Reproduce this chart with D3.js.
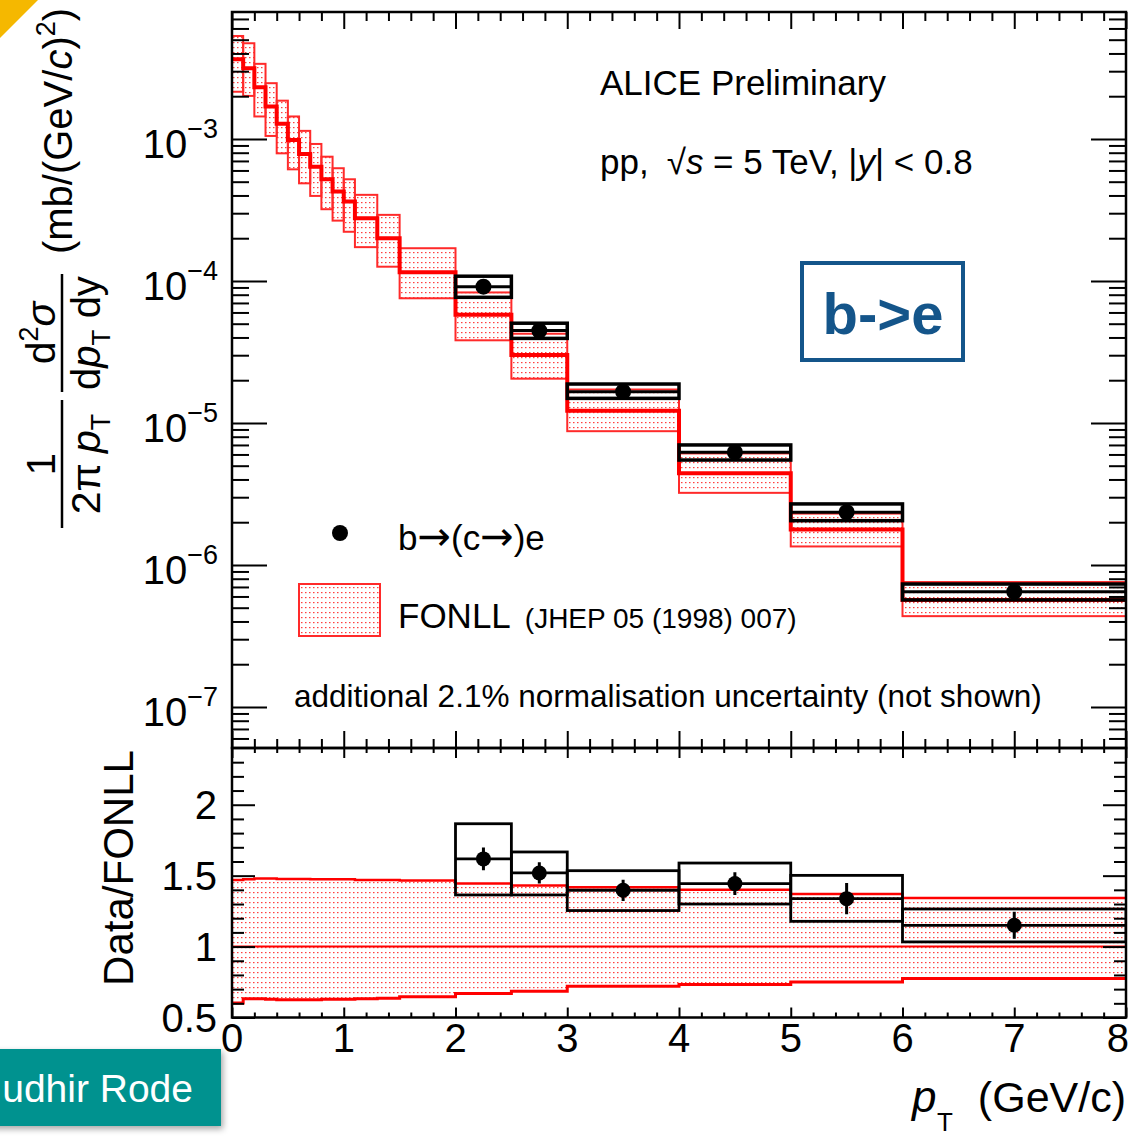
<!DOCTYPE html>
<html><head><meta charset="utf-8">
<script src="https://cdn.jsdelivr.net/npm/d3@7"></script>
<style>
body{margin:0;background:#fff;}
svg{display:block;}
text{font-family:"Liberation Sans",Arial,Helvetica,sans-serif;fill:#000;}
</style>
</head><body>
<script>
// ---------------- DATA ----------------
const fonllEdges = [0,0.1,0.2,0.3,0.4,0.5,0.6,0.7,0.8,0.9,1.0,1.1,1.3,1.5,2,2.5,3,4,5,6,8];
const fonllCentral = [3.64e-3,3.15e-3,2.31e-3,1.69e-3,1.28e-3,9.84e-4,7.84e-4,6.38e-4,5.20e-4,4.26e-4,3.62e-4,2.76e-4,2.00e-4,1.15e-4,5.77e-5,3.01e-5,1.22e-5,4.43e-6,1.78e-6,5.67e-7];
const fonllUpper = [5.31e-3,4.72e-3,3.38e-3,2.47e-3,1.86e-3,1.44e-3,1.14e-3,9.22e-4,7.50e-4,6.22e-4,5.20e-4,4.04e-4,2.92e-4,1.70e-4,8.30e-5,4.25e-5,1.72e-5,6.10e-6,2.30e-6,7.58e-7];
const fonllLower = [2.15e-3,2.01e-3,1.44e-3,1.05e-3,7.92e-4,6.11e-4,4.87e-4,3.97e-4,3.20e-4,2.66e-4,2.22e-4,1.73e-4,1.26e-4,7.55e-5,3.82e-5,2.05e-5,8.75e-6,3.22e-6,1.35e-6,4.36e-7];
const ratioBandUpper = [1.470,1.475,1.480,1.480,1.477,1.477,1.477,1.475,1.475,1.475,1.475,1.470,1.470,1.465,1.444,1.430,1.418,1.400,1.371,1.343];
const ratioBandLower = [0.603,0.632,0.632,0.628,0.625,0.625,0.625,0.625,0.628,0.628,0.628,0.632,0.635,0.646,0.669,0.685,0.721,0.732,0.751,0.775];

const dataLow  = [2,2.5,3,4,5,6];
const dataHigh = [2.5,3,4,5,6,8];
const dataValue    = [9.12e-5,4.47e-5,1.66e-5,6.22e-6,2.35e-6,6.48e-7];
const dataSystUp   = [1.08e-4,5.04e-5,1.88e-5,7.00e-6,2.69e-6,7.34e-7];
const dataSystDown = [7.67e-5,3.94e-5,1.49e-5,5.48e-6,2.05e-6,5.67e-7];
const dataStatRel  = [0.049,0.049,0.054,0.055,0.082,0.083];

const ratioValue    = [1.618,1.519,1.397,1.444,1.338,1.150];
const ratioSystUp   = [1.866,1.667,1.535,1.589,1.502,1.265];
const ratioSystDown = [1.364,1.364,1.254,1.300,1.178,1.033];
const ratioStat     = [0.080,0.075,0.075,0.080,0.110,0.095];

const xTickLabels = ["0","1","2","3","4","5","6","7","8"];
const logDecades = [-7,-6,-5,-4,-3];
const ratioTickLabels = ["0.5","1","1.5","2"];

// ---------------- LAYOUT ----------------
const W = 1129, H = 1137;
const L = 232, R = 1126, T = 12, MID = 748, B = 1017.5;
const RED = "#ff0000";

const svg = d3.select("body").append("svg").attr("width", W).attr("height", H);
const defs = svg.append("defs");
const pat = defs.append("pattern").attr("id","dots").attr("patternUnits","userSpaceOnUse")
  .attr("width",4).attr("height",5);
pat.append("rect").attr("x",1).attr("y",2).attr("width",1.5).attr("height",1.2).attr("fill",RED).attr("opacity",0.75);
defs.append("clipPath").attr("id","clipU").append("rect").attr("x",L).attr("y",T).attr("width",R-L).attr("height",MID-T);
defs.append("clipPath").attr("id","clipR").append("rect").attr("x",L).attr("y",MID).attr("width",R-L).attr("height",B-MID);
const flt = defs.append("filter").attr("id","shadow").attr("x","-20%").attr("y","-20%").attr("width","140%").attr("height","160%");
flt.append("feDropShadow").attr("dx",2).attr("dy",3).attr("stdDeviation",3).attr("flood-color","#000").attr("flood-opacity",0.35);

const x = d3.scaleLinear().domain([0,8]).range([L,R]);
const yU = d3.scaleLog().domain([Math.pow(10,-7.289), Math.pow(10,-2.106)]).range([MID,T]);
const yR = d3.scaleLinear().domain([0.5,2.4]).range([B,MID]);

// ---------------- UPPER PANEL ----------------
const gU = svg.append("g").attr("clip-path","url(#clipU)");
const nb = fonllCentral.length;
const bins = d3.range(nb);
gU.selectAll("rect.fb").data(bins).join("rect").attr("class","fb")
  .attr("x", i => x(fonllEdges[i])).attr("width", i => x(fonllEdges[i+1]) - x(fonllEdges[i]))
  .attr("y", i => yU(fonllUpper[i])).attr("height", i => yU(fonllLower[i]) - yU(fonllUpper[i]))
  .attr("fill","url(#dots)").attr("stroke","#ff2a2a").attr("stroke-width",2);
const stepPts = bins.map(i => [fonllEdges[i], fonllCentral[i]]).concat([[fonllEdges[nb], fonllCentral[nb-1]]]);
gU.append("path").attr("d", d3.line().x(d=>x(d[0])).y(d=>yU(d[1])).curve(d3.curveStepAfter)(stepPts))
  .attr("fill","none").attr("stroke",RED).attr("stroke-width",4);

const di = d3.range(dataValue.length);
gU.selectAll("rect.db").data(di).join("rect").attr("class","db")
  .attr("x", i => x(dataLow[i])).attr("width", i => x(dataHigh[i]) - x(dataLow[i]))
  .attr("y", i => yU(dataSystUp[i])).attr("height", i => yU(dataSystDown[i]) - yU(dataSystUp[i]))
  .attr("fill","none").attr("stroke","#000").attr("stroke-width",3.5);
gU.selectAll("line.dh").data(di).join("line").attr("class","dh")
  .attr("x1", i => x(dataLow[i])).attr("x2", i => x(dataHigh[i]))
  .attr("y1", i => yU(dataValue[i])).attr("y2", i => yU(dataValue[i]))
  .attr("stroke","#000").attr("stroke-width",3);
gU.selectAll("line.dv").data(di).join("line").attr("class","dv")
  .attr("x1", i => x((dataLow[i]+dataHigh[i])/2)).attr("x2", i => x((dataLow[i]+dataHigh[i])/2))
  .attr("y1", i => yU(dataValue[i]*(1+dataStatRel[i]))).attr("y2", i => yU(dataValue[i]*(1-dataStatRel[i])))
  .attr("stroke","#000").attr("stroke-width",3);
gU.selectAll("circle.dp").data(di).join("circle").attr("class","dp")
  .attr("cx", i => x((dataLow[i]+dataHigh[i])/2)).attr("cy", i => yU(dataValue[i])).attr("r",8).attr("fill","#000");

// ---------------- RATIO PANEL ----------------
const gR = svg.append("g").attr("clip-path","url(#clipR)");
const bandPts = bins.map(i => ({x: fonllEdges[i], lo: ratioBandLower[i], hi: ratioBandUpper[i]}))
  .concat([{x: fonllEdges[nb], lo: ratioBandLower[nb-1], hi: ratioBandUpper[nb-1]}]);
gR.append("path").attr("d", d3.area().x(d=>x(d.x)).y0(d=>yR(d.lo)).y1(d=>yR(d.hi)).curve(d3.curveStepAfter)(bandPts))
  .attr("fill","url(#dots)").attr("stroke","none");
gR.append("path").attr("d", d3.line().x(d=>x(d.x)).y(d=>yR(d.hi)).curve(d3.curveStepAfter)(bandPts))
  .attr("fill","none").attr("stroke",RED).attr("stroke-width",2.5);
gR.append("path").attr("d", d3.line().x(d=>x(d.x)).y(d=>yR(d.lo)).curve(d3.curveStepAfter)(bandPts))
  .attr("fill","none").attr("stroke",RED).attr("stroke-width",3);
gR.append("line").attr("x1",x(0)).attr("x2",x(8)).attr("y1",yR(1)).attr("y2",yR(1))
  .attr("stroke",RED).attr("stroke-width",2);

gR.selectAll("rect.rb").data(di).join("rect").attr("class","rb")
  .attr("x", i => x(dataLow[i])).attr("width", i => x(dataHigh[i]) - x(dataLow[i]))
  .attr("y", i => yR(ratioSystUp[i])).attr("height", i => yR(ratioSystDown[i]) - yR(ratioSystUp[i]))
  .attr("fill","none").attr("stroke","#000").attr("stroke-width",2.8);
gR.selectAll("line.rh").data(di).join("line").attr("class","rh")
  .attr("x1", i => x(dataLow[i])).attr("x2", i => x(dataHigh[i]))
  .attr("y1", i => yR(ratioValue[i])).attr("y2", i => yR(ratioValue[i]))
  .attr("stroke","#000").attr("stroke-width",2.8);
gR.selectAll("line.rv").data(di).join("line").attr("class","rv")
  .attr("x1", i => x((dataLow[i]+dataHigh[i])/2)).attr("x2", i => x((dataLow[i]+dataHigh[i])/2))
  .attr("y1", i => yR(ratioValue[i]+ratioStat[i])).attr("y2", i => yR(ratioValue[i]-ratioStat[i]))
  .attr("stroke","#000").attr("stroke-width",3);
gR.selectAll("circle.rp").data(di).join("circle").attr("class","rp")
  .attr("cx", i => x((dataLow[i]+dataHigh[i])/2)).attr("cy", i => yR(ratioValue[i])).attr("r",7.5).attr("fill","#000");

// ---------------- AXES / TICKS ----------------
function tickGroup(transform, axis){
  const g = svg.append("g").attr("transform", transform).call(axis);
  g.select(".domain").remove();
  g.selectAll("line").attr("stroke","#000").attr("stroke-width",2);
  g.selectAll("text").remove();
  return g;
}
const xMajor = xTickLabels.map(Number);
const xMinor = d3.range(0, 40).map(k => k*0.2).filter(v => Math.abs(v - Math.round(v)) > 1e-6);
const yMajor = logDecades.map(k => Math.pow(10,k));
const yMinor = [];
for (let k=-8;k<=-3;k++) for (let m=2;m<=9;m++){ const v=m*Math.pow(10,k); if (v>yU.domain()[0] && v<yU.domain()[1]) yMinor.push(v); }
const rMajor = ratioTickLabels.map(Number);
const rMinor = d3.range(5, 24).map(k => k/10).filter(v => Math.abs(v*2 - Math.round(v*2)) > 1e-6);

// upper
tickGroup(`translate(${L},0)`, d3.axisRight(yU).tickValues(yMajor).tickSize(35).tickFormat(""));
tickGroup(`translate(${L},0)`, d3.axisRight(yU).tickValues(yMinor).tickSize(17).tickFormat(""));
tickGroup(`translate(${R},0)`, d3.axisLeft(yU).tickValues(yMajor).tickSize(35).tickFormat(""));
tickGroup(`translate(${R},0)`, d3.axisLeft(yU).tickValues(yMinor).tickSize(17).tickFormat(""));
tickGroup(`translate(0,${T})`, d3.axisBottom(x).tickValues(xMajor).tickSize(17).tickFormat(""));
tickGroup(`translate(0,${T})`, d3.axisBottom(x).tickValues(xMinor).tickSize(9).tickFormat(""));
tickGroup(`translate(0,${MID})`, d3.axisTop(x).tickValues(xMajor).tickSize(17).tickFormat(""));
tickGroup(`translate(0,${MID})`, d3.axisTop(x).tickValues(xMinor).tickSize(9).tickFormat(""));
// ratio
tickGroup(`translate(${L},0)`, d3.axisRight(yR).tickValues(rMajor).tickSize(23).tickFormat(""));
tickGroup(`translate(${L},0)`, d3.axisRight(yR).tickValues(rMinor).tickSize(12).tickFormat(""));
tickGroup(`translate(${R},0)`, d3.axisLeft(yR).tickValues(rMajor).tickSize(23).tickFormat(""));
tickGroup(`translate(${R},0)`, d3.axisLeft(yR).tickValues(rMinor).tickSize(12).tickFormat(""));
tickGroup(`translate(0,${MID})`, d3.axisBottom(x).tickValues(xMajor).tickSize(10).tickFormat(""));
tickGroup(`translate(0,${MID})`, d3.axisBottom(x).tickValues(xMinor).tickSize(5).tickFormat(""));
tickGroup(`translate(0,${B})`, d3.axisTop(x).tickValues(xMajor).tickSize(10).tickFormat(""));
tickGroup(`translate(0,${B})`, d3.axisTop(x).tickValues(xMinor).tickSize(5).tickFormat(""));

// frames
svg.append("rect").attr("x",L).attr("y",T).attr("width",R-L).attr("height",MID-T).attr("fill","none").attr("stroke","#000").attr("stroke-width",2.5);
svg.append("rect").attr("x",L).attr("y",MID).attr("width",R-L).attr("height",B-MID).attr("fill","none").attr("stroke","#000").attr("stroke-width",2.5);

// tick labels
const yl = svg.selectAll("text.yl").data(logDecades).join("text").attr("class","yl")
  .attr("x",218).attr("y", k => yU(Math.pow(10,k)) + 19).attr("text-anchor","end").attr("font-size",40);
yl.append("tspan").text("10");
yl.append("tspan").attr("dy",-20).attr("font-size",27).text(k => "\u2212" + Math.abs(k));

svg.selectAll("text.rl").data(ratioTickLabels).join("text").attr("class","rl")
  .attr("x",217).attr("y", d => yR(+d) + 14).attr("text-anchor","end").attr("font-size",40).text(d => d);

svg.selectAll("text.xl").data(xTickLabels).join("text").attr("class","xl")
  .attr("x", (d,i) => i === xTickLabels.length-1 ? W : x(+d))
  .attr("y",1052).attr("text-anchor", (d,i) => i === xTickLabels.length-1 ? "end" : "middle")
  .attr("font-size",40).text(d => d);

// axis titles
svg.append("text").attr("x",912).attr("y",1112).attr("font-size",44).attr("font-style","italic").text("p");
svg.append("text").attr("x",937).attr("y",1131).attr("font-size",26).text("T");
svg.append("text").attr("x",1126).attr("y",1112).attr("text-anchor","end").attr("font-size",43).text("(GeV/c)");

svg.append("text").attr("transform","translate(133,868) rotate(-90)").attr("text-anchor","middle")
  .attr("font-size",42).text("Data/FONLL");

const yt = svg.append("g").attr("transform","rotate(-90)");
// fraction 1/(2pi pT)
yt.append("line").attr("x1",-528).attr("x2",-400).attr("y1",62).attr("y2",62).attr("stroke","#000").attr("stroke-width",2.5);
yt.append("text").attr("x",-464).attr("y",55).attr("text-anchor","middle").attr("font-size",40).text("1");
const den1 = yt.append("text").attr("x",-464).attr("y",100).attr("text-anchor","middle").attr("font-size",41);
den1.append("tspan").text("2\u03C0");
den1.append("tspan").attr("dx",10).attr("font-style","italic").text("p");
den1.append("tspan").attr("font-size",27).attr("dy",10).text("T");
// fraction d2sigma/(dpT dy)
yt.append("line").attr("x1",-392).attr("x2",-274).attr("y1",62).attr("y2",62).attr("stroke","#000").attr("stroke-width",2.5);
const num2 = yt.append("text").attr("x",-333).attr("y",55).attr("text-anchor","middle").attr("font-size",41);
num2.append("tspan").text("d");
num2.append("tspan").attr("font-size",27).attr("dy",-17).text("2");
num2.append("tspan").attr("dy",17).attr("font-style","italic").text("\u03C3");
const den2 = yt.append("text").attr("x",-333).attr("y",100).attr("text-anchor","middle").attr("font-size",40);
den2.append("tspan").text("d");
den2.append("tspan").attr("font-style","italic").text("p");
den2.append("tspan").attr("font-size",26).attr("dy",10).text("T");
den2.append("tspan").attr("dy",-10).text(" dy");
const unit = yt.append("text").attr("x",-131).attr("y",72).attr("text-anchor","middle").attr("font-size",40);
unit.append("tspan").text("(mb/(GeV/");
unit.append("tspan").attr("font-style","italic").text("c");
unit.append("tspan").text(")");
unit.append("tspan").attr("font-size",27).attr("dy",-17).text("2");
unit.append("tspan").attr("dy",17).text(")");

// annotations
svg.append("text").attr("x",600).attr("y",95).attr("font-size",35).text("ALICE Preliminary");
const pp = svg.append("text").attr("x",600).attr("y",174).attr("font-size",35);
pp.append("tspan").text("pp,");
pp.append("tspan").attr("dx",18).text("\u221A");
pp.append("tspan").attr("font-style","italic").text("s");
pp.append("tspan").text(" = 5 TeV, |");
pp.append("tspan").attr("font-style","italic").text("y");
pp.append("tspan").text("| < 0.8");

svg.append("rect").attr("x",802).attr("y",263).attr("width",161).attr("height",97)
  .attr("fill","none").attr("stroke","#14558a").attr("stroke-width",4);
svg.append("text").attr("x",883).attr("y",334).attr("text-anchor","middle").attr("font-size",58)
  .attr("font-weight","bold").style("fill","#14558a").text("b->e");

// legend
svg.append("circle").attr("cx",340).attr("cy",533).attr("r",8).attr("fill","#000");
const lb = svg.append("text").attr("x",398).attr("y",550).attr("font-size",35);
lb.append("tspan").text("b");
lb.append("tspan").style("font-family","'DejaVu Sans'").attr("font-size",40).text("\u2192");
lb.append("tspan").text("(c");
lb.append("tspan").style("font-family","'DejaVu Sans'").attr("font-size",40).text("\u2192");
lb.append("tspan").text(")e");
svg.append("rect").attr("x",299).attr("y",584).attr("width",81).attr("height",52)
  .attr("fill","url(#dots)").attr("stroke","#ff2a2a").attr("stroke-width",2);
const lf = svg.append("text").attr("x",398).attr("y",628).attr("font-size",35);
lf.append("tspan").text("FONLL");
lf.append("tspan").attr("dx",14).attr("font-size",28).text("(JHEP 05 (1998) 007)");

svg.append("text").attr("x",294).attr("y",707).attr("font-size",31.5)
  .text("additional 2.1% normalisation uncertainty (not shown)");

// decorations
svg.append("polygon").attr("points","0,0 38,0 0,38").attr("fill","#f5b800");
svg.append("rect").attr("x",-10).attr("y",1049).attr("width",231).attr("height",77)
  .attr("fill","#00928f").attr("filter","url(#shadow)");
svg.append("text").attr("x",193).attr("y",1102).attr("text-anchor","end").attr("font-size",39)
  .style("fill","#fff").text("udhir Rode");
</script>
</body></html>
